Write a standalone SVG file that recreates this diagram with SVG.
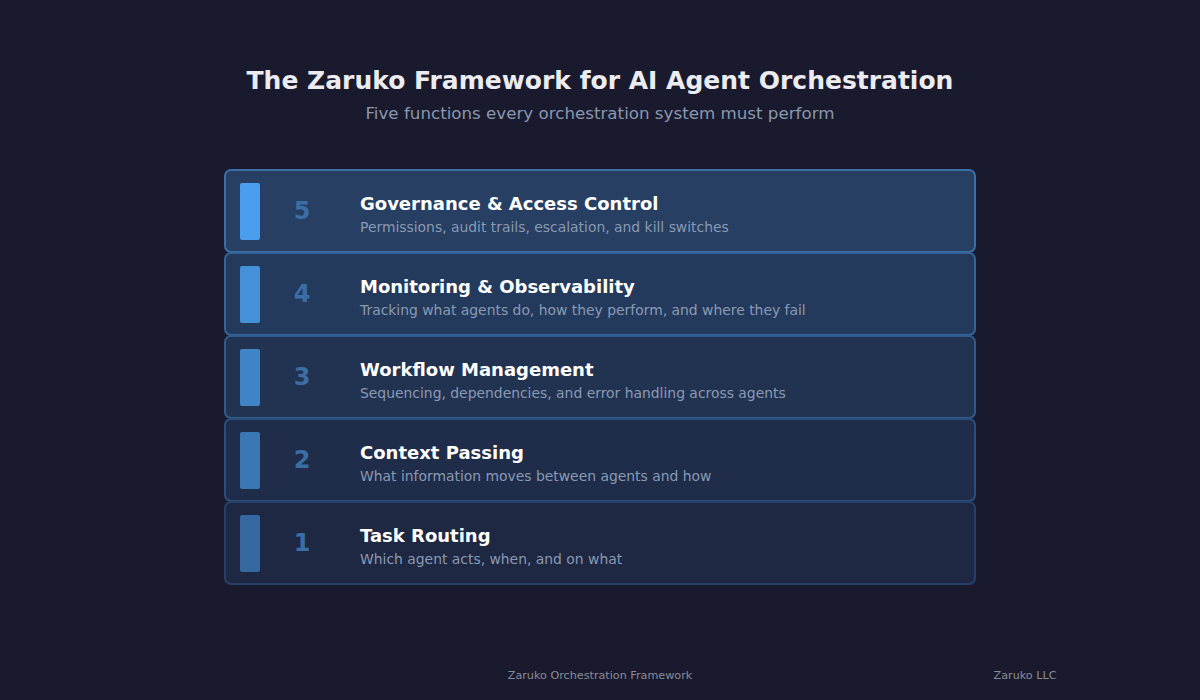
<svg xmlns="http://www.w3.org/2000/svg" width="1200" height="700" viewBox="0 0 1200 700">
<style>
text{font-family:"DejaVu Sans","Liberation Sans",sans-serif}
.title{font-size:25px;font-weight:bold;fill:#ececf0}
.sub{font-size:16.7px;fill:#8a97ad}
.num{font-size:24px;font-weight:bold;fill:#3a6ea5}
.h{font-size:18px;font-weight:bold;fill:#ffffff}
.d{font-size:13.9px;fill:#8a9ab4}
.foot{font-size:11.2px;fill:#8a8a96}
.row{stroke-width:2}
</style>
<rect width="1200" height="700" fill="#1a1a2e"/>
<text class="title" x="600" y="89" text-anchor="middle">The Zaruko Framework for AI Agent Orchestration</text>
<text class="sub" x="600" y="119" text-anchor="middle">Five functions every orchestration system must perform</text>
<g id="layer5">
<rect class="row" x="225" y="170" width="750" height="82" rx="6" fill="#263f62" stroke="#3a6ea5"/>
<rect x="240" y="183" width="20" height="57" rx="2" fill="#4a9eed"/>
<text class="num" x="302" y="219" text-anchor="middle">5</text>
<text class="h" x="360" y="210">Governance &amp; Access Control</text>
<text class="d" x="360" y="232">Permissions, audit trails, escalation, and kill switches</text>
</g>
<g id="layer4">
<rect class="row" x="225" y="253" width="750" height="82" rx="6" fill="#243a5c" stroke="#35649a"/>
<rect x="240" y="266" width="20" height="57" rx="2" fill="#4591d9"/>
<text class="num" x="302" y="302" text-anchor="middle">4</text>
<text class="h" x="360" y="293">Monitoring &amp; Observability</text>
<text class="d" x="360" y="315">Tracking what agents do, how they perform, and where they fail</text>
</g>
<g id="layer3">
<rect class="row" x="225" y="336" width="750" height="82" rx="6" fill="#223352" stroke="#2f5a8c"/>
<rect x="240" y="349" width="20" height="57" rx="2" fill="#3f84c6"/>
<text class="num" x="302" y="385" text-anchor="middle">3</text>
<text class="h" x="360" y="376">Workflow Management</text>
<text class="d" x="360" y="398">Sequencing, dependencies, and error handling across agents</text>
</g>
<g id="layer2">
<rect class="row" x="225" y="419" width="750" height="82" rx="6" fill="#1f2d4a" stroke="#2b4f7c"/>
<rect x="240" y="432" width="20" height="57" rx="2" fill="#3a77b4"/>
<text class="num" x="302" y="468" text-anchor="middle">2</text>
<text class="h" x="360" y="459">Context Passing</text>
<text class="d" x="360" y="481">What information moves between agents and how</text>
</g>
<g id="layer1">
<rect class="row" x="225" y="502" width="750" height="82" rx="6" fill="#1e2843" stroke="#26406a"/>
<rect x="240" y="515" width="20" height="57" rx="2" fill="#3568a0"/>
<text class="num" x="302" y="551" text-anchor="middle">1</text>
<text class="h" x="360" y="542">Task Routing</text>
<text class="d" x="360" y="564">Which agent acts, when, and on what</text>
</g>
<g id="connectors"/>
<text class="foot" x="600" y="679" text-anchor="middle">Zaruko Orchestration Framework</text>
<text class="foot" x="1025" y="679" text-anchor="middle">Zaruko LLC</text>
</svg>
